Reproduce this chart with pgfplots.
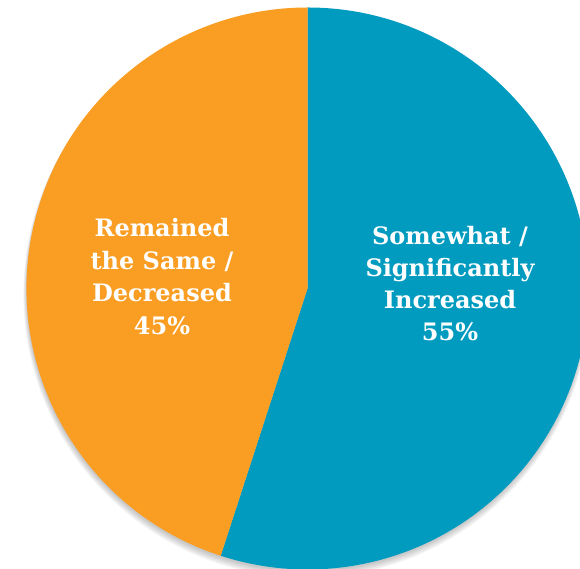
\documentclass[border=0pt]{standalone}
\usepackage{pgfplots}
\pgfplotsset{compat=1.18}
\usepackage{pgfplotstable}
\usepackage{fontspec}
\setmainfont{DejaVu Serif}
\definecolor{pieblue}{HTML}{029BC0}
\definecolor{pieorange}{HTML}{F99D23}
\pgfplotstableread{
label value
Increased 55
Decreased 45
}\piedata
\begin{document}
\begin{tikzpicture}
\pgfplotstablegetelem{0}{value}\of\piedata \let\va\pgfplotsretval
\pgfplotstablegetelem{1}{value}\of\piedata \let\vb\pgfplotsretval
\pgfmathsetmacro{\angA}{90-\va/(\va+\vb)*360}
\begin{axis}[
  x=1pt, y=1pt,
  xmin=0, xmax=580, ymin=0, ymax=569,
  hide axis, clip=true,
  scale only axis,
]
% soft shadow
\pgfplotsinvokeforeach{1,...,6}{
  \fill[black, opacity=0.04] (axis cs:307,{279-0.7*#1}) circle[radius={280+0.6*#1}];
}
\fill[pieblue] (axis cs:307.5,280.5) -- +(90:281pt) arc[start angle=90, end angle=\angA, radius=281pt] -- cycle;
\fill[pieorange] (axis cs:307.5,280.5) -- +(\angA:281pt) arc[start angle=\angA, end angle=-270, radius=281pt] -- cycle;
\node[text=white, font=\bfseries\fontsize{24}{32}\selectfont, align=center] at (axis cs:450,285.5)
  {Somewhat /\\Significantly\\Increased\\\va\%};
\node[text=white, font=\bfseries\fontsize{24}{32.5}\selectfont, align=center] at (axis cs:162,292.5)
  {Remained\\the Same /\\Decreased\\\vb\%};
\end{axis}
\pgfresetboundingbox
\path[use as bounding box] (current axis.south west) rectangle (current axis.north east);
\end{tikzpicture}
\end{document}
